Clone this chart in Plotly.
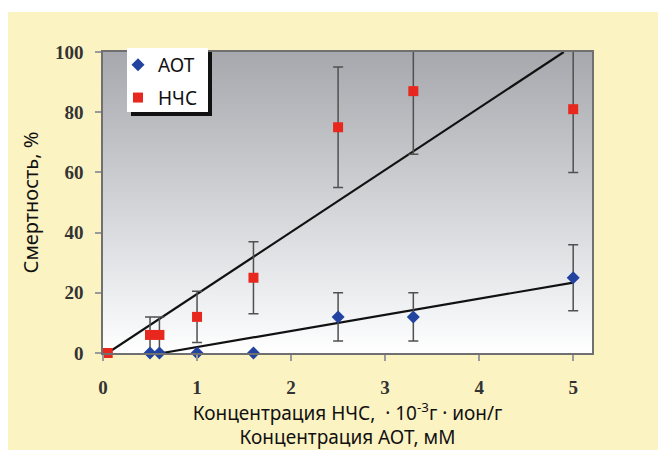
import plotly.graph_objects as go

# ---- data ----
aot_x = [0.5, 0.6, 1.0, 1.6, 2.5, 3.3, 5.0]
aot_y = [0, 0, 0, 0, 12, 12, 25]
aot_err = [None, None, None, None, 8, 8, 11]

nchs_x = [0.05, 0.5, 0.6, 1.0, 1.6, 2.5, 3.3, 5.0]
nchs_y = [0, 6, 6, 12, 25, 75, 87, 81]
nchs_err = [None, 6, 6, 8.5, 12, 20, 21, 21]

trend_aot_x = [0.63, 5.0]
trend_aot_y = [0, 23.4]
trend_nchs_x = [0.05, 4.9]
trend_nchs_y = [0, 100]

x_ticks = [0, 1, 2, 3, 4, 5]
y_ticks = [0, 20, 40, 60, 80, 100]

W, H = 666, 450
OFF = 8  # page body margin in the screenshot
ML, MT = 95, 44
pw, ph = 489, 301
MR = W - ML - pw
MB = H - MT - ph

def px_to_paper_x(px):
    return (px - OFF - ML) / pw

def py_to_paper_y(py):
    return (MT + ph - (py - OFF)) / ph

fig = go.Figure()

# gradient plot background
fig.add_trace(go.Scatter(
    x=[0, 5.2, 5.2, 0, 0], y=[0, 0, 100, 100, 0],
    mode="lines", line=dict(width=0), fill="toself",
    fillgradient=dict(type="vertical", start=0, stop=100,
                      colorscale=[[0, "#ffffff"], [0.12, "#f3f4f6"], [1, "#a6a8ad"]]),
    hoverinfo="skip", showlegend=False))

# trend lines
fig.add_trace(go.Scatter(x=trend_nchs_x, y=trend_nchs_y, mode="lines",
                         line=dict(color="#111111", width=2.2), showlegend=False,
                         cliponaxis=False))
fig.add_trace(go.Scatter(x=trend_aot_x, y=trend_aot_y, mode="lines",
                         line=dict(color="#111111", width=2.2), showlegend=False,
                         cliponaxis=False))

err_style = dict(type="data", color="#505050", thickness=1.5, width=5)

fig.add_trace(go.Scatter(
    x=nchs_x, y=nchs_y, mode="markers", name="НЧС", legendrank=2, legendgroup="b",
    marker=dict(symbol="square", size=10, color="#e8281e"),
    error_y=dict(array=nchs_err, **err_style), cliponaxis=False))
fig.add_trace(go.Scatter(
    x=aot_x, y=aot_y, mode="markers", name="АОТ", legendrank=1, legendgroup="a",
    marker=dict(symbol="diamond", size=10, color="#2343a0"),
    error_y=dict(array=aot_err, **err_style), cliponaxis=False))

shapes = [
    # yellow page background (white strip at top)
    dict(type="rect", xref="paper", yref="paper", layer="below",
         x0=px_to_paper_x(OFF), x1=px_to_paper_x(W + 20),
         y0=py_to_paper_y(H + 20), y1=py_to_paper_y(12),
         fillcolor="#fcf3c3", line=dict(width=0)),
    # legend shadow
    dict(type="rect", xref="paper", yref="paper", layer="above",
         x0=px_to_paper_x(131), x1=px_to_paper_x(212),
         y0=py_to_paper_y(116), y1=py_to_paper_y(52),
         fillcolor="#111111", line=dict(width=0)),
    # legend box
    dict(type="rect", xref="paper", yref="paper", layer="above",
         x0=px_to_paper_x(127), x1=px_to_paper_x(208),
         y0=py_to_paper_y(112), y1=py_to_paper_y(48),
         fillcolor="#ffffff", line=dict(width=0)),
]

fig.update_layout(
    width=W, height=H,
    margin=dict(l=ML, r=MR, t=MT, b=MB, autoexpand=False),
    paper_bgcolor="#ffffff", plot_bgcolor="rgba(0,0,0,0)",
    shapes=shapes,
    showlegend=True,
    legend=dict(x=px_to_paper_x(118), y=py_to_paper_y(46), xanchor="left", yanchor="top",
                bgcolor="rgba(0,0,0,0)", borderwidth=0, tracegroupgap=5,
                font=dict(family="Noto Sans", size=19, color="#111111")),
    xaxis=dict(range=[0, 5.2], tickvals=x_ticks, ticks="outside", ticklen=6,
               tickcolor="#9a9a9a", tickwidth=1.5, ticklabelstandoff=10,
               showline=True, mirror=True, linecolor="#707070", linewidth=1.5,
               showgrid=False, zeroline=False,
               tickfont=dict(family="Liberation Serif", size=19, color="#333333", weight="bold"),
               title=dict(text="Концентрация НЧС,\u00a0\u00a0· 10<sup>-3</sup>г · ион/г<br>Концентрация АОТ, мМ",
                          font=dict(family="Noto Sans", size=19, color="#111111"), standoff=4)),
    yaxis=dict(range=[0, 100], tickvals=y_ticks, ticks="outside", ticklen=6,
               tickcolor="#9a9a9a", tickwidth=1.5, ticklabelstandoff=8,
               showline=True, mirror=True, linecolor="#707070", linewidth=1.5,
               showgrid=False, zeroline=False,
               tickfont=dict(family="Liberation Serif", size=19, color="#333333", weight="bold"),
               title=dict(text="Смертность, %",
                          font=dict(family="Noto Sans", size=20, color="#111111"), standoff=11)),
)

fig.write_html("out.html")
